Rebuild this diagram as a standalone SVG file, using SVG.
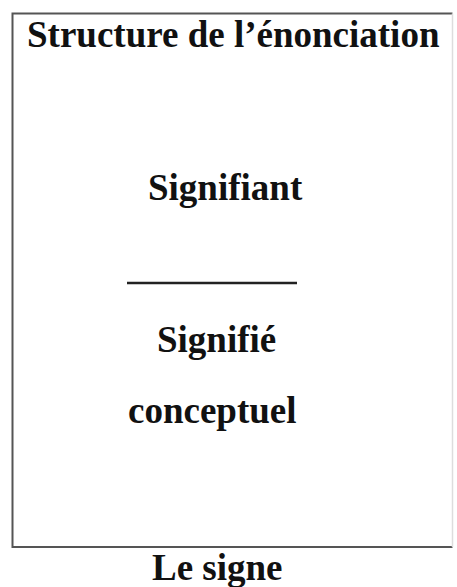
<svg xmlns="http://www.w3.org/2000/svg" width="457" height="587" viewBox="0 0 457 587">
<style>
.t{font-family:"Liberation Serif","Times New Roman",serif;font-weight:bold;font-size:37px;fill:#111}
</style>
<rect width="457" height="587" fill="#fff"/>
<g id="box">
<path d="M452.5,13.5 H12.5 V547 H452.5" fill="none" stroke="#555" stroke-width="2"/>
<line x1="452.5" y1="13.5" x2="452.5" y2="547" stroke="#ddd" stroke-width="1.5"/>
<text class="t" x="27" y="47">Structure de l’énonciation</text>
</g>
<g id="signifiant"><text class="t" x="148" y="200">Signifiant</text></g>
<g id="connectors"><line x1="127" y1="283" x2="297" y2="283" stroke="#222" stroke-width="2.5"/></g>
<g id="signifie"><text class="t" x="157" y="352">Signifié</text>
<text class="t" x="128" y="423">conceptuel</text></g>
<g id="label"><text class="t" x="152" y="580">Le signe</text></g>
</svg>
